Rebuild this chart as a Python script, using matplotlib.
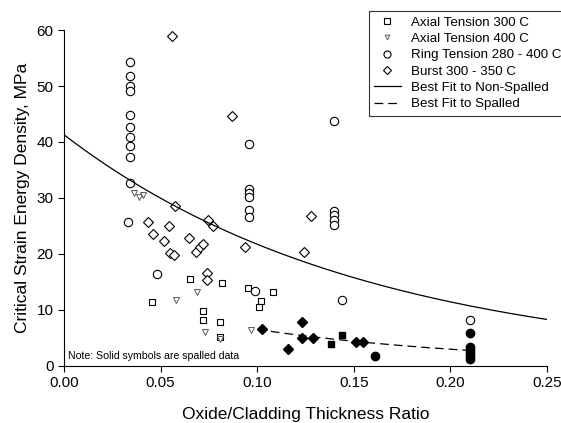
import matplotlib
matplotlib.use("Agg")
import matplotlib.pyplot as plt
import numpy as np

plt.rcParams['font.family'] = ['Liberation Sans', 'DejaVu Sans']

# Axial tension 300 C (open squares)
ax300_x = [0.0455, 0.065, 0.082, 0.072, 0.072, 0.081, 0.095, 0.102, 0.101, 0.108, 0.081]
ax300_y = [11.4, 15.5, 14.8, 9.8, 8.2, 7.9, 13.9, 11.6, 10.5, 13.2, 5.2]

# Axial tension 400 C (open triangles)
ax400_x = [0.036, 0.039, 0.041, 0.058, 0.069, 0.073, 0.081, 0.097]
ax400_y = [30.8, 30.2, 30.6, 11.8, 13.2, 6.1, 4.8, 6.4]

# Ring tension 280 - 400 C (open circles)
ring_x = [0.034] * 10 + [0.033, 0.048] + [0.096] * 6 + [0.140] * 5 + [0.144, 0.099, 0.210]
ring_y = [54.3, 51.8, 50.0, 49.1, 44.8, 42.7, 40.9, 39.3, 37.3, 32.6,
          25.7, 16.4,
          39.6, 31.6, 30.8, 30.2, 27.8, 26.6,
          43.7, 27.7, 27.0, 26.1, 25.2,
          11.8, 13.3, 8.2]

# Burst 300 - 350 C (open diamonds)
burst_x = [0.056, 0.087, 0.0435, 0.046, 0.0518, 0.0543, 0.0549, 0.057, 0.0575, 0.0647,
           0.0683, 0.0704, 0.072, 0.0745, 0.077, 0.0937, 0.074, 0.074, 0.124, 0.128]
burst_y = [58.9, 44.6, 25.7, 23.6, 22.3, 25.0, 20.2, 19.8, 28.5, 22.8,
           20.4, 21.3, 21.8, 26.1, 25.0, 21.3, 16.6, 15.4, 20.4, 26.8]

# Spalled data (solid symbols)
sp_sq_x = [0.144, 0.138]
sp_sq_y = [5.5, 3.9]
sp_ring_x = [0.161, 0.210, 0.210, 0.210, 0.210, 0.210, 0.210]
sp_ring_y = [1.8, 5.9, 3.4, 2.8, 2.3, 1.7, 1.2]
sp_burst_x = [0.1025, 0.123, 0.123, 0.129, 0.116, 0.151, 0.155]
sp_burst_y = [6.6, 7.9, 5.0, 5.0, 3.0, 4.3, 4.3]

# Exponential best fits y = a * exp(-b x)
fit_ns = (41.3, 6.42)
fit_sp = (14.2, 7.8)

fig = plt.figure(figsize=(5.61, 4.23), dpi=100)
ax = fig.add_axes([0.114, 0.135, 0.861, 0.794])

mk = dict(linestyle='none', markerfacecolor='white', markeredgecolor='black',
          markeredgewidth=0.8)
ax.plot(ax300_x, ax300_y, marker='s', markersize=5, label='Axial Tension 300 C', **mk)
ax.plot(ax400_x, ax400_y, marker='v', markersize=4, linestyle='none',
        markerfacecolor='white', markeredgecolor='0.35', markeredgewidth=0.7,
        label='Axial Tension 400 C')
ax.plot(ring_x, ring_y, marker='o', markersize=6, label='Ring Tension 280 - 400 C', **mk)
ax.plot(burst_x, burst_y, marker='D', markersize=5, label='Burst 300 - 350 C', **mk)

xs = np.linspace(0, 0.25, 200)
ax.plot(xs, fit_ns[0] * np.exp(-fit_ns[1] * xs), color='black', lw=0.9,
        label='Best Fit to Non-Spalled')
xs2 = np.linspace(0.1, 0.21, 100)
ax.plot(xs2, fit_sp[0] * np.exp(-fit_sp[1] * xs2), color='black', lw=0.9,
        dashes=(7, 4), label='Best Fit to Spalled')

ax.plot(sp_sq_x, sp_sq_y, 's', color='black', markersize=5)
ax.plot(sp_ring_x, sp_ring_y, 'o', color='black', markersize=6)
ax.plot(sp_burst_x, sp_burst_y, 'D', color='black', markersize=5)

ax.set_xlim(0, 0.25)
ax.set_ylim(0, 60)
ax.set_xticks([0, 0.05, 0.10, 0.15, 0.20, 0.25])
ax.set_xticklabels(['0.00', '0.05', '0.10', '0.15', '0.20', '0.25'])
ax.set_yticks(range(0, 61, 10))
ax.spines['top'].set_visible(False)
ax.spines['right'].set_visible(False)
ax.tick_params(direction='out', length=4, labelsize=11)
ax.set_xlabel('Oxide/Cladding Thickness Ratio', fontsize=12.5, labelpad=12)
ax.set_ylabel('Critical Strain Energy Density, MPa', fontsize=12.5, labelpad=5)

ax.text(0.002, 1.2, 'Note: Solid symbols are spalled data', fontsize=7.6)

leg = fig.legend(loc='upper left', bbox_to_anchor=(0.645, 0.99), fontsize=9.6,
                 frameon=True, fancybox=False, edgecolor='black', handlelength=2.0,
                 labelspacing=0.3, borderpad=0.4, markerscale=0.85)
leg.get_frame().set_linewidth(0.8)

fig.savefig('out.png', dpi=100)
